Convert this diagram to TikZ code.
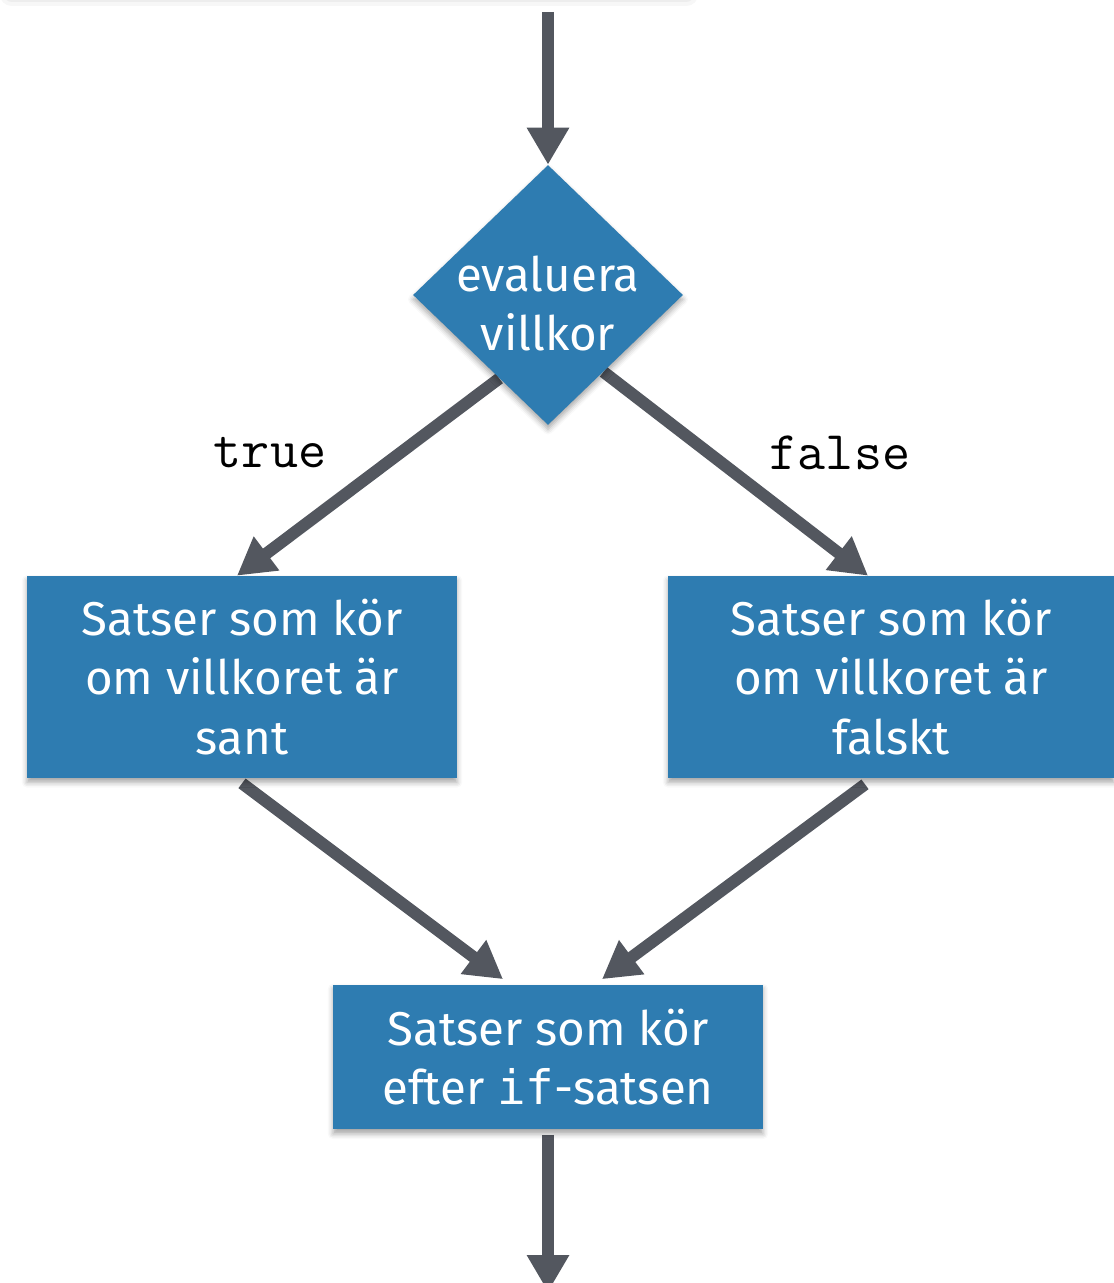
\documentclass[tikz,border=0pt]{standalone}
\usepackage{fontspec}
\setmainfont{Fira Sans}
\newfontfamily\ifmono{DejaVu Sans Mono}
\usepackage{tikz}
\usetikzlibrary{shapes.geometric}
\usetikzlibrary{arrows.meta}
\usetikzlibrary{calc}
\usetikzlibrary{shadows.blur}

\definecolor{boxblue}{RGB}{46,124,177}
\definecolor{flowgray}{RGB}{83,87,95}

\pgfdeclarelayer{background}
\pgfsetlayers{background,main}

\begin{document}
\begin{tikzpicture}[x=0.02cm, y=-0.02cm,
        boxshadow/.style={blur shadow={shadow xshift=0pt, shadow yshift=-2.5pt, shadow blur radius=3pt, shadow opacity=35}},
        stmt/.style={rectangle, fill=boxblue, text=white, align=center, inner sep=0pt, boxshadow, font=\fontsize{27}{34}\selectfont},
        cond/.style={diamond, fill=boxblue, inner sep=0pt, minimum width=5.4cm, minimum height=5.2cm, boxshadow},
        flow/.style={draw=flowgray, line width=0.24cm, -{Triangle[length=0.74cm, width=0.8cm]}},
        branch/.style={font=\ttfamily\fontsize{31}{31}\selectfont}]
        \useasboundingbox (0,0) rectangle (1113,1283);
        \foreach \w/\o in {0.5/0.03, 0.34/0.04, 0.18/0.05}
            \draw[black, opacity=\o, line width=\w cm, line cap=round] (12,-6) -- (686,-6);
        \coordinate (in) at (548,12);
        \coordinate (out) at (548,1292);
        \node[cond, label={[text=white, align=center, yshift=-0.17cm, font=\fontsize{27}{34}\selectfont]center:evaluera\\villkor}] (test) at (548,295) {};
        \node[stmt, minimum width=8.6cm, minimum height=4.04cm] (truebox) at (242,677) {Satser som kör\\om villkoret är\\sant};
        \node[stmt, minimum width=8.92cm, minimum height=4.04cm] (falsebox) at (891,677) {Satser som kör\\om villkoret är\\falskt};
        \node[stmt, minimum width=8.6cm, minimum height=2.9cm] (after) at (548,1057) {Satser som kör\\efter {\ifmono if}-satsen};
        \node[branch] (truelabel) at (270,453) {true};
        \node[branch] (falselabel) at (840,453) {false};
        \begin{pgfonlayer}{background}
        \draw[flow] (in) -- (test.north);
        \draw[flow] ($(test.south)!0.36!(test.west)$) -- ([xshift=-0.1cm]truebox.north);
        \draw[flow] ($(test.south)!0.41!(test.east)$) -- ([xshift=-0.46cm]falsebox.north);
        \draw[flow] ([yshift=-0.1cm]truebox.south) -- ([xshift=-0.9cm, yshift=0.1cm]after.north);
        \draw[flow] ([xshift=-0.52cm, yshift=-0.12cm]falsebox.south) -- ([xshift=1.08cm, yshift=0.1cm]after.north);
        \draw[flow] ([yshift=-0.1cm]after.south) -- (out);
        \end{pgfonlayer}
    \end{tikzpicture}
\end{document}
